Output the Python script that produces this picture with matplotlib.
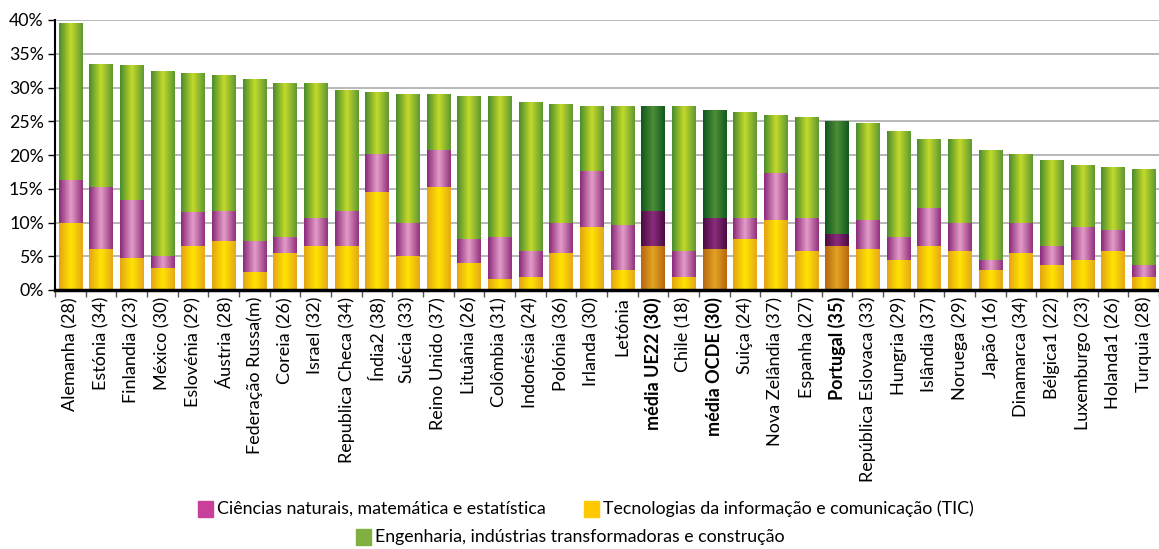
import matplotlib
matplotlib.use('Agg')
import matplotlib.pyplot as plt
import matplotlib.patches as mpatches
from matplotlib.colors import LinearSegmentedColormap
from matplotlib.ticker import FuncFormatter, FixedLocator
import numpy as np

plt.rcParams['font.family'] = ['Lato', 'DejaVu Sans']

# ─── data (% of graduates by field) ───
countries = ['Alemanha (28)', 'Estónia (34)', 'Finlandia (23)', 'México (30)', 'Eslovénia (29)',
             'Áustria (28)', 'Federação Russa(m)', 'Coreia (26)', 'Israel (32)', 'Republica Checa (34)',
             'Índia2 (38)', 'Suécia (33)', 'Reino Unido (37)', 'Lituânia (26)', 'Colômbia (31)',
             'Indonésia (24)', 'Polónia (36)', 'Irlanda (30)', 'Letónia', 'média UE22 (30)',
             'Chile (18)', 'média OCDE (30)', 'Suiça (24)', 'Nova Zelândia (37)', 'Espanha (27)',
             'Portugal (35)', 'República Eslovaca (33)', 'Hungria (29)', 'Islândia (37)', 'Noruega (29)',
             'Japão (16)', 'Dinamarca (34)', 'Bélgica1 (22)', 'Luxemburgo (23)', 'Holanda1 (26)',
             'Turquia (28)']
tic = [9.9, 6.1, 4.8, 3.3, 6.5, 7.2, 2.7, 5.5, 6.5, 6.5, 14.5, 5.0, 15.2, 4.0, 1.6, 1.9, 5.5, 9.3,
       3.0, 6.5, 1.9, 6.1, 7.5, 10.3, 5.8, 6.5, 6.1, 4.4, 6.5, 5.8, 3.0, 5.5, 3.7, 4.4, 5.8, 1.9]
ciencias = [6.4, 9.1, 8.6, 1.7, 5.0, 4.5, 4.5, 2.3, 4.1, 5.2, 5.6, 4.9, 5.6, 3.5, 6.2, 3.9, 4.4, 8.4,
            6.6, 5.2, 3.9, 4.5, 3.1, 7.0, 4.8, 1.8, 4.2, 3.4, 5.6, 4.1, 1.4, 4.4, 2.8, 4.9, 3.1, 1.8]
engenharia = [23.3, 18.3, 19.9, 27.5, 20.7, 20.1, 24.0, 22.9, 20.1, 18.0, 9.3, 19.2, 8.3, 21.2, 20.9,
              22.1, 17.7, 9.6, 17.7, 15.6, 21.5, 16.0, 15.7, 8.6, 15.0, 16.8, 14.5, 15.7, 10.2, 12.4,
              16.3, 10.3, 12.7, 9.2, 9.3, 14.2]
highlight = ['média UE22 (30)', 'média OCDE (30)', 'Portugal (35)']

# gradient colours (edge, centre, edge) - normal / highlighted
GRAD = {
    'tic':  (['#E4A414', '#FFE400', '#E6A818'], ['#B8660F', '#E2A422', '#B8660F']),
    'cien': (['#8A2A7A', '#E49CC8', '#92327E'], ['#4A0C40', '#8C2C7E', '#4A0C40']),
    'eng':  (['#4A8C2E', '#C4DA2A', '#5E9832'], ['#0E561C', '#4E8E38', '#115A1E']),
}
LEG = {'tic': '#FFC800', 'cien': '#C8409A', 'eng': '#80B040'}

fig = plt.figure(figsize=(11.59, 5.49), dpi=100)
ax = fig.add_axes([55 / 1159, (549 - 290) / 549, 1104 / 1159, 270 / 549])

x = np.arange(len(countries))
w = 0.77
grad = np.linspace(0, 1, 64).reshape(1, -1)

bottom = np.zeros(len(countries))
for key, vals in [('tic', tic), ('cien', ciencias), ('eng', engenharia)]:
    bars = ax.bar(x, vals, bottom=bottom, width=w, color=GRAD[key][0][1], zorder=3, linewidth=0)
    cm_norm = LinearSegmentedColormap.from_list(key, GRAD[key][0])
    cm_dark = LinearSegmentedColormap.from_list(key + 'd', GRAD[key][1])
    for name, p in zip(countries, bars):
        x0, y0 = p.get_x(), p.get_y()
        cm = cm_dark if name in highlight else cm_norm
        im = ax.imshow(grad, extent=(x0, x0 + p.get_width(), y0, y0 + p.get_height()),
                       aspect='auto', cmap=cm, zorder=3, interpolation='bilinear')
        im.set_clip_path(p)
    bottom += np.array(vals)

ax.set_xlim(-0.5, len(countries) - 0.5)
ax.set_ylim(0, 40)
ax.set_aspect('auto')

# y axis
ax.set_yticks(np.arange(0, 41, 5))
ax.yaxis.set_major_formatter(FuncFormatter(lambda v, _: f'{v:.0f}%'))
ax.tick_params(axis='y', labelsize=12.8, length=5, width=1, colors='black', pad=3)
ax.yaxis.grid(True, color='#ABABAB', linewidth=1.2, zorder=0)
ax.set_axisbelow(True)

# x axis: labels at centres, ticks at category boundaries
ax.set_xticks(x)
ax.set_xticklabels(countries, rotation=90, fontsize=13)
ax.tick_params(axis='x', length=0, pad=5)
ax.xaxis.set_minor_locator(FixedLocator(np.arange(-0.5, len(countries), 1)))
ax.tick_params(axis='x', which='minor', length=5, width=1, color='#555555')
for lbl in ax.get_xticklabels():
    if lbl.get_text() in highlight:
        lbl.set_fontweight('bold')

for s in ['top', 'right']:
    ax.spines[s].set_visible(False)
ax.spines['left'].set_linewidth(1.5)
ax.spines['bottom'].set_linewidth(2.5)
ax.spines['bottom'].set_zorder(5)

# ─── legend (Excel-style, centred rows) ───
def leg_item(xpx, ypx, key, text):
    fig.patches.append(mpatches.Rectangle((xpx / 1159, (549 - ypx - 8) / 549), 15 / 1159, 16 / 549,
                                          transform=fig.transFigure, color=LEG[key]))
    fig.text((xpx + 19) / 1159, (549 - ypx) / 549, text, fontsize=12.8, va='center', ha='left')

leg_item(198, 509, 'cien', 'Ciências naturais, matemática e estatística')
leg_item(584, 509, 'tic', 'Tecnologias da informação e comunicação (TIC)')
leg_item(356, 537, 'eng', 'Engenharia, indústrias transformadoras e construção')

fig.savefig('out.png', dpi=100, facecolor='white')
